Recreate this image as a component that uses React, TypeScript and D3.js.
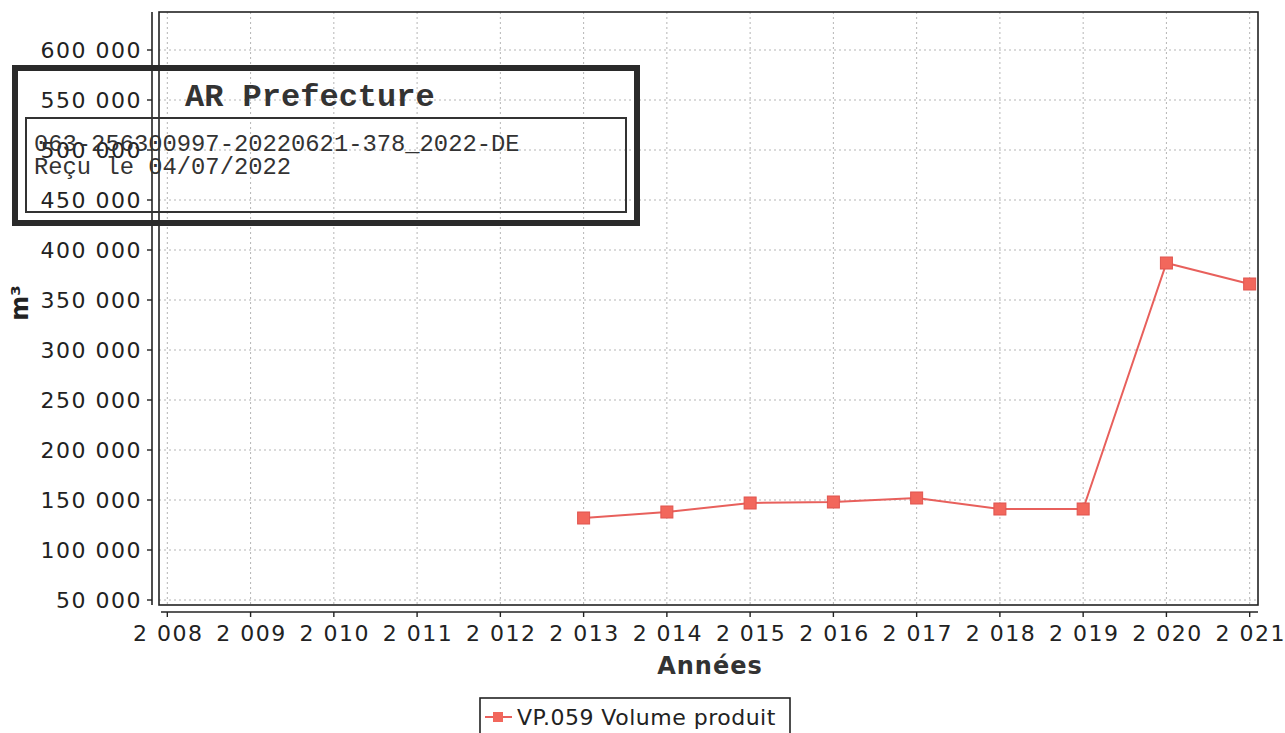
import React from "react";
import * as d3 from "d3";

// chart values
const years = [2013, 2014, 2015, 2016, 2017, 2018, 2019, 2020, 2021];
const volumes = [132000, 138000, 147000, 148000, 152000, 141000, 141000, 387000, 366000];
const yTicks = [50000, 100000, 150000, 200000, 250000, 300000, 350000, 400000, 450000, 500000, 550000, 600000];
const xTicks = [2008, 2009, 2010, 2011, 2012, 2013, 2014, 2015, 2016, 2017, 2018, 2019, 2020, 2021];
const seriesName = "VP.059 Volume produit";
const stampLines = ["063-256300997-20220621-378_2022-DE", "Reçu le 04/07/2022"];

const W = 1285;
const H = 733;
const plot = { left: 159, right: 1258, top: 12, bottom: 605 };

const fr = d3.formatLocale({ decimal: ",", thousands: " ", grouping: [3], currency: ["", ""] });
const fmt = fr.format(",");

const App = () => {
  const x = d3.scaleLinear().domain([2007.9, 2021.1]).range([plot.left, plot.right]);
  const y = d3.scaleLinear().domain([45000, 638000]).range([plot.bottom, plot.top]);

  const points = years.map((yr, i) => [x(yr), y(volumes[i])] as [number, number]);
  const line = d3.line()(points);

  const font = "'DejaVu Sans', sans-serif";
  const red = "#e8605c";

  return (
    <svg width={W} height={H} style={{ position: "absolute", left: 0, top: 0, background: "#fff" }}>
      {/* grid */}
      {xTicks.map((t) => (
        <line key={"gx" + t} x1={x(t)} x2={x(t)} y1={plot.top} y2={plot.bottom}
          stroke="#b5b5b5" strokeDasharray="2 3" />
      ))}
      {yTicks.map((t) => (
        <line key={"gy" + t} x1={plot.left} x2={plot.right} y1={y(t)} y2={y(t)}
          stroke="#b5b5b5" strokeDasharray="2 3" />
      ))}

      {/* plot border */}
      <rect x={plot.left} y={plot.top} width={plot.right - plot.left} height={plot.bottom - plot.top}
        fill="none" stroke="#222" strokeWidth={1.6} />

      {/* y axis */}
      <line x1={152} x2={152} y1={plot.top} y2={plot.bottom} stroke="#222" strokeWidth={1.6} />
      {yTicks.map((t) => (
        <g key={"yt" + t}>
          <line x1={147} x2={152} y1={y(t)} y2={y(t)} stroke="#222" strokeWidth={1.4} />
          <text x={142} y={y(t)} dy="0.36em" textAnchor="end" fontFamily={font} fontSize={22}
            letterSpacing={1.5} fill="#222">{fmt(t)}</text>
        </g>
      ))}

      {/* x axis */}
      <line x1={161} x2={plot.right} y1={612} y2={612} stroke="#222" strokeWidth={1.6} />
      {xTicks.map((t) => (
        <g key={"xt" + t}>
          <line x1={x(t)} x2={x(t)} y1={612} y2={617} stroke="#222" strokeWidth={1.4} />
          <text x={x(t) + 1} y={641} textAnchor="middle" fontFamily={font} fontSize={22}
            letterSpacing={1.5} fill="#222">{fmt(t)}</text>
        </g>
      ))}

      {/* axis titles */}
      <text transform="translate(28,303) rotate(-90)" textAnchor="middle" fontFamily={font}
        fontSize={24} fontWeight="bold" fill="#222">m³</text>
      <text x={710} y={674} textAnchor="middle" fontFamily={font} fontSize={24} fontWeight="bold"
        letterSpacing={1} fill="#333">Années</text>

      {/* series */}
      <path d={line || ""} fill="none" stroke={red} strokeWidth={2} />
      {points.map(([px, py], i) => (
        <rect key={"m" + i} x={px - 6} y={py - 6} width={12} height={12} fill="#f2675c" stroke="#e0554f" strokeWidth={1} />
      ))}

      {/* legend */}
      <rect x={480} y={698} width={310} height={42} fill="#fff" stroke="#222" strokeWidth={1.6} />
      <line x1={485} x2={512} y1={717} y2={717} stroke={red} strokeWidth={2} />
      <rect x={493} y={712} width={10} height={10} fill="#f2675c" />
      <text x={517} y={725} fontFamily={font} fontSize={22} letterSpacing={0.5} fill="#222">{seriesName}</text>

      {/* reception stamp overlaid on scan */}
      <rect x={15} y={68} width={622} height={155} fill="none" stroke="#2a2a2a" strokeWidth={6} />
      <rect x={26} y={118} width={600} height={94} fill="none" stroke="#333" strokeWidth={2} />
      <text x={185} y={106} fontFamily="'Liberation Mono', monospace" fontSize={32} fontWeight="bold" fill="#333">AR Prefecture</text>
      {stampLines.map((s, i) => (
        <text key={"s" + i} x={34} y={151 + i * 23} fontFamily="'Liberation Mono', monospace" fontSize={23.8} fill="#333">{s}</text>
      ))}
    </svg>
  );
};

export default App;
